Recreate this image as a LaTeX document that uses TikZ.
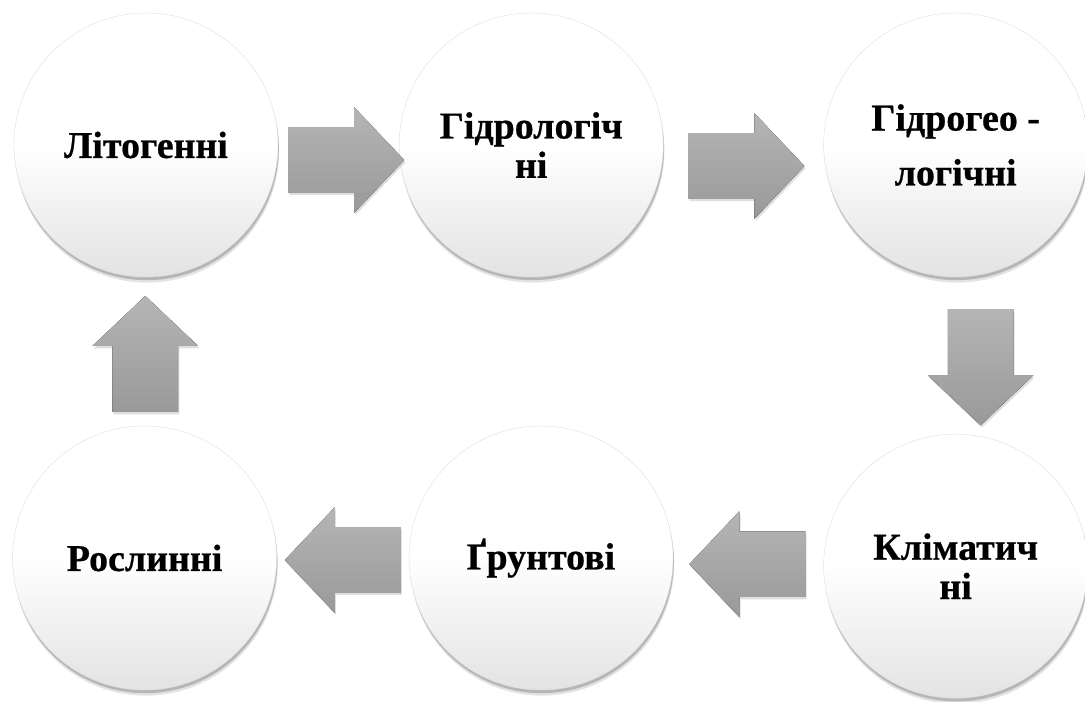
\documentclass[tikz,border=0pt]{standalone}
\usepackage{fontspec}
\setmainfont{Liberation Serif}
\newfontfamily\bubblefont{Liberation Serif}[BoldFont={Liberation Serif Bold},BoldFeatures={FakeBold=0.6}]
\usetikzlibrary{positioning,calc,shadows}

\begin{document}
\begin{tikzpicture}
\colorlet{bubble edge}{black!12}
\colorlet{bubble low}{black!11}
\colorlet{arrow light}{black!29}
\colorlet{arrow dark}{black!40}
\tikzset{
     bubble/.style={circle, minimum size=6.6cm, inner sep=0pt, align=center,
        draw=bubble edge, line width=0.3pt,
        top color=white, bottom color=bubble low, middle color=white,
        drop shadow={shadow xshift=0.03cm, shadow yshift=-0.14cm, opacity=0.22},
        drop shadow={shadow xshift=0.02cm, shadow yshift=-0.08cm, opacity=0.45},
        font=\bubblefont\bfseries\fontsize{27}{28}\selectfont},
     blockarrow/.pic={
        \fill[top color=arrow light, bottom color=arrow dark,
              drop shadow={shadow xshift=0.03cm, shadow yshift=-0.06cm, opacity=0.25}]
          (-1.45,-0.82) -- (0.2,-0.82) -- (0.2,-1.32) -- (1.45,0)
          -- (0.2,1.32) -- (0.2,0.82) -- (-1.45,0.82) -- cycle;
     }}
\useasboundingbox (0,0) rectangle (27.125,17.55);

% The circles
\node (lito)  [bubble] at (3.65,13.925) {Літогенні};
\node (hydro) [bubble, right=3.02cm of lito] {Гідрологіч\\ні};
\node (geo)   [bubble, right=4cm of hydro] {Гідрогео -\\[11pt]логічні};
\node (clim)  [bubble, below=3.92cm of geo] {Кліматич\\ні};
\node (soil)  [bubble] at (13.525,3.6) {Ґрунтові};
\node (plant) [bubble, left=3.3cm of soil] {Рослинні};

% The arrows
\pic (a1) at ($(lito)!0.5!(hydro)+(0.19,-0.375)$) {blockarrow};
\pic (a2) at ($(hydro)!0.5!(geo)+(0.075,-0.525)$) {blockarrow};
\pic (a3) [rotate=-90] at ($(geo)!0.5!(clim)+(0.625,-0.29)$) {blockarrow};
\pic (a4) [rotate=180] at ($(clim)!0.5!(soil)+(-0.025,-0.05)$) {blockarrow};
\pic (a5) [rotate=180] at ($(soil)!0.5!(plant)+(0,-0.05)$) {blockarrow};
\pic (a6) [rotate=90] at ($(plant)!0.5!(lito)+(0,-0.06)$) {blockarrow};
\end{tikzpicture}
\end{document}
